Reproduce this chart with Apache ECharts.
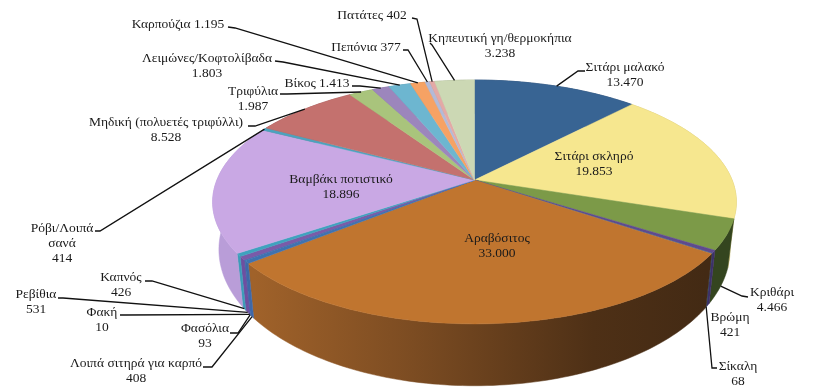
<!DOCTYPE html>
<html>
<head>
<meta charset="utf-8">
<style>
  html, body { margin: 0; padding: 0; background: #fff; }
  #chart { width: 819px; height: 390px; }
</style>
<script src="https://cdn.jsdelivr.net/npm/echarts@6/dist/echarts.min.js"></script>
</head>
<body>
<div id="chart"></div>
<script>
// clockwise from 12 o'clock
const categories = [
  "Σιτάρι μαλακό", "Σιτάρι σκληρό", "Κριθάρι", "Βρώμη", "Σίκαλη", "Αραβόσιτος",
  "Λοιπά σιτηρά για καρπό", "Φασόλια", "Φακή", "Ρεβίθια", "Καπνός",
  "Βαμβάκι ποτιστικό", "Ρόβι/Λοιπά\nσανά", "Μηδική (πολυετές τριφύλλι)", "Τριφύλια",
  "Βίκος", "Λειμώνες/Κοφτολίβαδα", "Καρπούζια", "Πεπόνια", "Πατάτες",
  "Κηπευτική γη/θερμοκήπια"
];
const values = [
  13470, 19853, 4466, 421, 68, 33000,
  408, 93, 10, 531, 426,
  18896, 414, 8528, 1987,
  1413, 1803, 1195, 377, 402,
  3238
];

const topColors = [
  "#386493", "#F6E78F", "#7C9A48", "#5E4A8E", "#3F6BA3", "#C0752F",
  "#3F72B0", "#3F72B0", "#3F72B0", "#7A5BA8", "#3FA2BE",
  "#C9A8E4", "#4BA3BE", "#C4716E", "#A9C47C",
  "#9C86BC", "#6DB6D0", "#F6A264", "#B2BAD8", "#E3A9A6",
  "#CCD8B4"
];
const wallColors = [
  "#25436A", "#C9BA6A", "#34451F", "#3E3068", "#2E4E78", "#6B4020",
  "#3F68A8", "#3F68A8", "#3F68A8", "#6E4FA0", "#3C9CB8",
  "#B99DD8", "#3C8CA4", "#8F4E4C", "#7C9158",
  "#6F5C8A", "#4C8AA0", "#B87640", "#808AA6", "#AA7A78",
  "#96A282"
];
const cornWall = [
  { offset: 0, color: "#A0622A" },
  { offset: 0.35, color: "#7C4C22" },
  { offset: 0.75, color: "#4E3016" },
  { offset: 1, color: "#432A14" }
];

// label centre, start of the leader line, and which rim it goes to
const labelLayout = [
  { x: 625, y: 75, inline: false, rim: "top", line: [[585, 71], [578, 71]] },
  { x: 594, y: 164, inline: false },
  { x: 772, y: 300, inline: false, rim: "base", line: [[748, 297], [742, 296]] },
  { x: 730, y: 325, inline: false },
  { x: 738, y: 374, inline: false, rim: "base", line: [[717, 368], [712, 368]] },
  { x: 497, y: 246, inline: false },
  { x: 136, y: 371, inline: false, rim: "base", line: [[203, 367], [212, 367]] },
  { x: 205, y: 336, inline: false, rim: "base", line: [[230, 333], [238, 333]] },
  { x: 102, y: 320, inline: false, rim: "base", line: [[120, 315], [126, 315]] },
  { x: 36, y: 302, inline: false, rim: "base", line: [[58, 298], [63, 298]] },
  { x: 121, y: 285, inline: false, rim: "base", line: [[145, 281], [152, 281]] },
  { x: 341, y: 187, inline: false },
  { x: 62, y: 243, inline: false, rim: "top", line: [[95, 231], [100, 231]] },
  { x: 166, y: 130, inline: false, rim: "top", line: [[248, 126], [255, 126]] },
  { x: 253, y: 99, inline: false, rim: "top", line: [[280, 94], [287, 94]] },
  { x: 317, y: 83, inline: true, rim: "top", line: [[352, 86], [360, 86]] },
  { x: 207, y: 66, inline: false, rim: "top", line: [[275, 61], [283, 62]] },
  { x: 178, y: 24, inline: true, rim: "top", line: [[228, 27], [235, 28]] },
  { x: 366, y: 47, inline: true, rim: "top", line: [[403, 50], [408, 50]] },
  { x: 372, y: 15, inline: true, rim: "top", line: [[412, 18], [417, 19]] },
  { x: 500, y: 46, inline: false, rim: "top", line: [[430, 43], [432, 45]] }
];

// pie geometry (perspective view of a flat disc)
const cx = 474.5, cy = 180, radX = 257.6, radY = 118, persp = 0.18, depthY = 45;
const baseScaleX = 0.976, baseScaleY = 1.117;

const total = values.reduce((a, b) => a + b, 0);

function angleAt(cum) {
  return (cum / total) * 2 * Math.PI;
}
function rimTop(a) {
  const d = 1 + persp * Math.cos(a);
  return [cx + (radX * Math.sin(a)) / d, cy - (radY * Math.cos(a)) / d];
}
function rimBase(a) {
  const p = rimTop(a);
  return [cx + (p[0] - cx) * baseScaleX, cy + depthY + (p[1] - cy) * baseScaleY];
}
function sliceAngles(i) {
  const before = values.slice(0, i).reduce((a, b) => a + b, 0);
  return [angleAt(before), angleAt(before + values[i])];
}
function arc(a0, a1, fn) {
  const n = Math.max(2, Math.ceil((a1 - a0) / 0.02));
  const pts = [];
  for (let k = 0; k <= n; k++) {
    pts.push(fn(a0 + ((a1 - a0) * k) / n));
  }
  return pts;
}
function fmt(v) {
  return String(v).replace(/\B(?=(\d{3})+$)/g, ".");
}

function renderWall(params) {
  const i = params.dataIndex;
  const [a0, a1] = sliceAngles(i);
  const pts = arc(a0, a1, rimTop).concat(arc(a0, a1, rimBase).reverse());
  const fill = categories[i] === "Αραβόσιτος"
    ? new echarts.graphic.LinearGradient(rimBase(a1)[0], 0, rimBase(a0)[0], 0, cornWall, true)
    : wallColors[i];
  return {
    type: "polygon",
    shape: { points: pts },
    style: { fill: fill, stroke: fill, lineWidth: 0.5 }
  };
}

function renderTop(params) {
  const i = params.dataIndex;
  const [a0, a1] = sliceAngles(i);
  const pts = [[cx, cy]].concat(arc(a0, a1, rimTop));
  return {
    type: "polygon",
    shape: { points: pts },
    style: { fill: topColors[i], stroke: topColors[i], lineWidth: 0.5 }
  };
}

function renderLabel(params) {
  const i = params.dataIndex;
  const lay = labelLayout[i];
  const [a0, a1] = sliceAngles(i);
  const children = [];
  if (lay.rim) {
    const end = (lay.rim === "top" ? rimTop : rimBase)((a0 + a1) / 2);
    children.push({
      type: "polyline",
      shape: { points: lay.line.concat([end]) },
      style: { stroke: "#111", fill: null, lineWidth: 1.3 }
    });
  }
  children.push({
    type: "text",
    style: {
      text: categories[i] + (lay.inline ? " " : "\n") + fmt(values[i]),
      x: lay.x,
      y: lay.y,
      align: "center",
      verticalAlign: "middle",
      font: '13.5px "Liberation Serif"',
      lineHeight: 15,
      fill: "#1a1a1a"
    }
  });
  return { type: "group", children: children };
}

const chart = echarts.init(document.getElementById("chart"), null, { renderer: "canvas" });
chart.setOption({
  animation: false,
  backgroundColor: "#fff",
  series: [
    { type: "custom", coordinateSystem: "none", silent: true, z: 1, data: values, renderItem: renderWall },
    { type: "custom", coordinateSystem: "none", silent: true, z: 2, data: values, renderItem: renderTop },
    { type: "custom", coordinateSystem: "none", silent: true, z: 3, data: values, renderItem: renderLabel }
  ]
});
</script>
</body>
</html>
